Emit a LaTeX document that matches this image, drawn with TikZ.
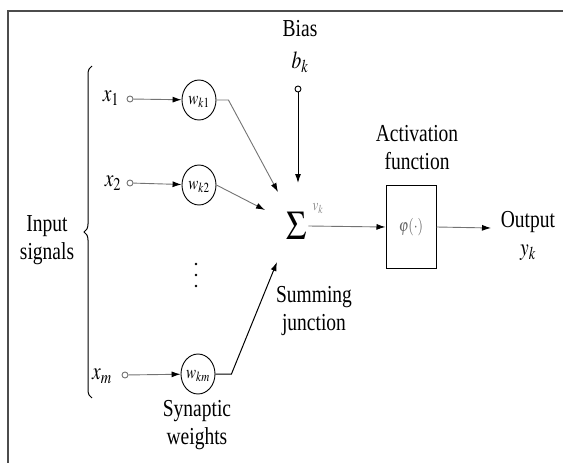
\documentclass[tikz,border=0pt]{standalone}
\usepackage{mathptmx}
\usepackage[no-math]{fontspec}
\setmainfont{Liberation Serif}
\usetikzlibrary{arrows.meta,shapes.geometric,decorations.pathreplacing}
\newcommand{\tallt}[1]{\scalebox{1}[1.25]{\begin{tabular}{@{}c@{}}#1\end{tabular}}}
\begin{document}
\begin{tikzpicture}[x=1pt,y=-1pt,
  lbl/.style={font=\fontsize{19.5}{22}\selectfont, inner sep=0pt, align=center},
  wt/.style={draw, ellipse, minimum width=34pt, minimum height=40pt, inner sep=0pt, line width=0.9pt, font=\fontsize{15}{17}\selectfont},
  term/.style={draw, circle, minimum size=6pt, inner sep=0pt, line width=0.9pt},
  arr/.style={line width=1pt, -{Latex[length=9pt,width=6pt]}},
  farr/.style={line width=0.9pt, draw=black!55, -{Latex[length=9pt,width=6pt,fill=black,color=black]}},
  fline/.style={line width=0.9pt, draw=black!55}]
\useasboundingbox (0,0) rectangle (563,463);
\draw[line width=2pt, black!70] (8,463) -- (8,11) -- (563,11);
% inputs
\node[lbl] (x1) at (111,96) {\tallt{$x_1$}};
\node[lbl] (x2) at (113,181) {\tallt{$x_2$}};
\node[lbl] (xm) at (102,374) {\tallt{$x_m$}};
\node[term, draw=black!55] (t1) at (130,99) {};
\node[term, draw=black!55] (t2) at (130,183) {};
\node[term, draw=black!55] (tm) at (125,375) {};
\node[wt] (w1) at (199,100) {\tallt{$w_{k1}$}};
\node[wt] (w2) at (199,185) {\tallt{$w_{k2}$}};
\node[wt] (wm) at (198,374) {\tallt{$w_{km}$}};
\node[inner sep=0pt, minimum width=6pt, minimum height=30pt] (vd) at (196,275) {};
\foreach \yy in {-11,0,11} \fill ([yshift=\yy pt]vd.center) circle (1.3pt);
\draw[farr] (t1) -- (w1);
\draw[farr] (t2) -- (w2);
\draw[farr] (tm) -- (wm);
% brace
\draw[line width=1pt, decorate, decoration={brace, amplitude=8pt}] (92,398) -- (92,66);
\node[lbl] (inp) at (47,240) {\tallt{Input\\signals}};
% bias
\node[lbl] (bias) at (300,31) {\tallt{Bias}};
\node[lbl] (bk) at (300,63) {\tallt{$b_k$}};
\node[term] (tb) at (298,89) {};
% sum
\node[font=\fontsize{34}{36}\selectfont, inner sep=1pt] (sum) at (297,226) {\scalebox{1}[1.2]{$\Sigma$}};
\coordinate (s1) at (278,192);
\coordinate (s2) at (265,210);
\coordinate (sm) at (277,262);
\coordinate (sb) at (298,183);
\draw[arr] (tb) -- (sb);
\draw[farr] (w1.east) -- ++(12,0) -- (s1);
\draw[farr] (w2.east) -- (s2);
\draw[arr] (wm.east) -- ++(16,0) -- (sm);
\node[lbl, text=black!45, font=\fontsize{13}{15}\selectfont] (vk) at (318,207) {\tallt{$v_k$}};
% activation
\node[draw, line width=1pt, minimum width=50pt, minimum height=83pt, inner sep=0pt, font=\fontsize{14}{16}\selectfont, text=black!60] (phi) at (411,227) {\tallt{$\varphi(\cdot)$}};
\draw[farr] (sum.east) -- (phi.west);
\node[lbl] (act) at (417,150) {\tallt{Activation\\function}};
\node[lbl] (out) at (528,236) {\tallt{Output\\$y_k$}};
\coordinate (o1) at (491,228);
\draw[farr] (phi.east) -- (o1);
% labels
\node[lbl] (sj) at (314,311) {\tallt{Summing\\junction}};
\node[lbl] (sw) at (197,425) {\tallt{Synaptic\\weights}};
\end{tikzpicture}
\end{document}
